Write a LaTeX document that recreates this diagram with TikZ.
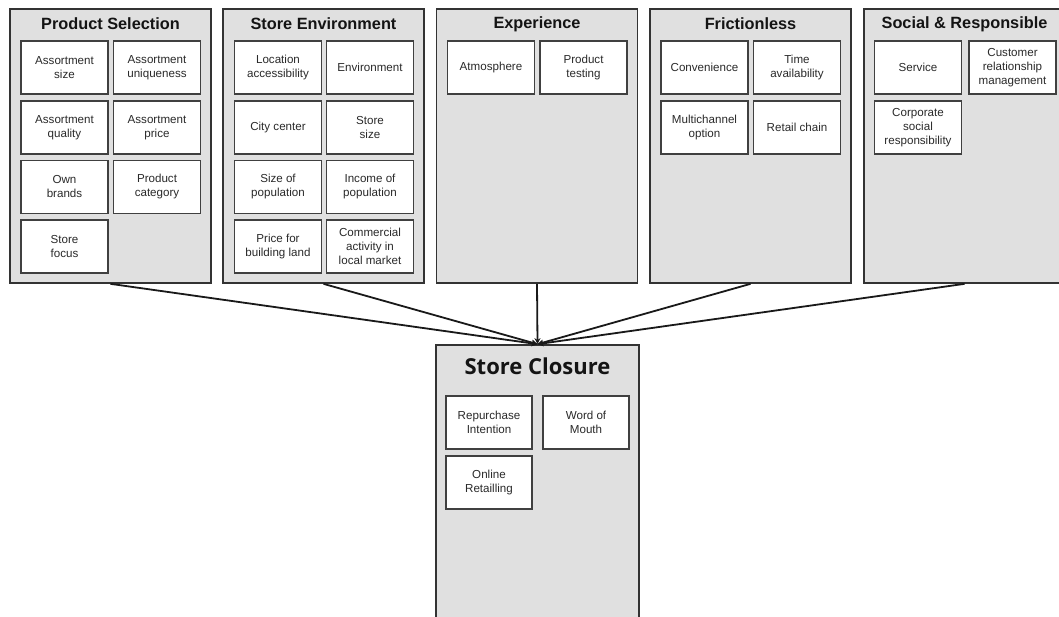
\documentclass[tikz,border=0pt]{standalone}
\usepackage{fontspec}
\setmainfont{Liberation Sans}
\newfontfamily\titlefont{Open Sans}
\usetikzlibrary{arrows.meta}
\definecolor{panelgray}{HTML}{E0E0E0}
\definecolor{edgegray}{HTML}{333333}
\definecolor{boxedge}{HTML}{404040}
\definecolor{txt}{HTML}{2A2A2A}
\tikzset{
  panel/.style={draw=edgegray, fill=panelgray, line width=1.7pt, minimum width=201pt, inner sep=0pt},
  ptitle/.style={font=\bfseries\fontsize{16.3}{18}\selectfont, text=black!92, inner sep=0pt},
  item/.style={draw=boxedge, fill=white, line width=1.4pt, minimum width=87pt, minimum height=53pt, inner sep=0pt, align=center, font=\fontsize{11.6}{14}\selectfont, text=txt},
  conn/.style={draw=black!90, line width=1.8pt, -{Stealth[length=6pt,width=6pt]}}
}
\begin{document}
\begin{tikzpicture}[x=1pt,y=-1pt]
\clip (0,0) rectangle (1059,617);
\fill[white] (0,0) rectangle (1059,617);
% panels
\node[panel, minimum height=274pt] (p1) at (110.5,146) {};
\node[panel, minimum height=274pt] (p2) at (323.5,146) {};
\node[panel, minimum height=274pt] (p3) at (537,146) {};
\node[panel, minimum height=274pt] (p4) at (750.5,146) {};
\node[panel, minimum height=274pt] (p5) at (964.5,146) {};
\node[panel, minimum width=203pt, minimum height=300pt] (sc) at (537.5,495) {};
% titles
\node[ptitle] (t1) at (110.5,24) {Product Selection};
\node[ptitle] (t2) at (323.5,24) {Store Environment};
\node[ptitle] (t3) at (537,24) {Experience};
\node[ptitle] (t4) at (750.5,24) {Frictionless};
\node[ptitle] (t5) at (964.5,24) {Social \& Responsible};
\node[inner sep=0pt, font=\titlefont\bfseries\fontsize{22}{24}\selectfont, text=black!92] (t6) at (537.5,366) {Store Closure};
% Product Selection
\node[item] (a1) at (64.5,67.5) {Assortment\\size};
\node[item] (a2) at (157,67.5) {Assortment\\uniqueness};
\node[item] (a3) at (64.5,127.5) {Assortment\\quality};
\node[item] (a4) at (157,127.5) {Assortment\\price};
\node[item] (a5) at (64.5,187) {Own\\brands};
\node[item] (a6) at (157,187) {Product\\category};
\node[item] (a7) at (64.5,246.5) {Store\\focus};
% Store Environment
\node[item] (b1) at (278,67.5) {Location\\accessibility};
\node[item] (b2) at (370,67.5) {Environment};
\node[item] (b3) at (278,127.5) {City center};
\node[item] (b4) at (370,127.5) {Store\\size};
\node[item] (b5) at (278,187) {Size of\\population};
\node[item] (b6) at (370,187) {Income of\\population};
\node[item] (b7) at (278,246.5) {Price for\\building land};
\node[item] (b8) at (370,246.5) {Commercial\\activity in\\local market};
% Experience
\node[item] (c1) at (491,67.5) {Atmosphere};
\node[item] (c2) at (583.5,67.5) {Product\\testing};
% Frictionless
\node[item] (d1) at (704.5,67.5) {Convenience};
\node[item] (d2) at (797,67.5) {Time\\availability};
\node[item] (d3) at (704.5,127.5) {Multichannel\\option};
\node[item] (d4) at (797,127.5) {Retail chain};
% Social & Responsible
\node[item] (e1) at (918,67.5) {Service};
\node[item] (e2) at (1012.5,67.5) {Customer\\relationship\\management};
\node[item] (e3) at (918,127.5) {Corporate\\social\\responsibility};
% Store Closure
\node[item, minimum width=86pt] (f1) at (489,422.5) {Repurchase\\Intention};
\node[item, minimum width=86pt] (f2) at (586,422.5) {Word of\\Mouth};
\node[item, minimum width=86pt] (f3) at (489,482.5) {Online\\Retailling};
% connectors
\draw[conn] (p1.south) -- (sc.north);
\draw[conn] (p2.south) -- (sc.north);
\draw[conn] (p3.south) -- (sc.north);
\draw[conn] (p4.south) -- (sc.north);
\draw[conn] (p5.south) -- (sc.north);
\end{tikzpicture}
\end{document}
